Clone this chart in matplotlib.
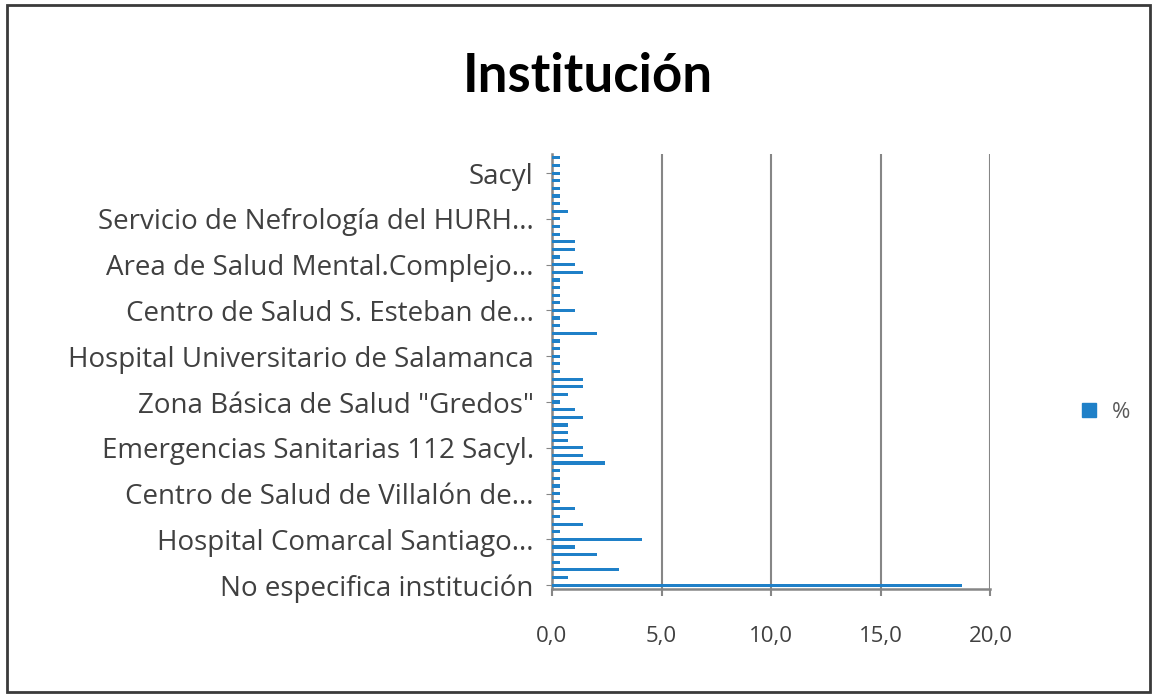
import matplotlib
matplotlib.use("Agg")
import matplotlib.pyplot as plt
from matplotlib.patches import Rectangle
from matplotlib.lines import Line2D

# Data (bottom -> top), percentages
values = [18.7, 0.73, 3.06, 0.37, 2.05, 1.05, 4.1, 0.37, 1.4, 0.37,
          1.05, 0.37, 0.37, 0.37, 0.37, 0.37, 2.4, 1.4, 1.4, 0.73,
          0.73, 0.73, 1.4, 1.05, 0.37, 0.73, 1.4, 1.4, 0.37, 0.37,
          0.37, 0.37, 0.37, 2.05, 0.37, 0.37, 1.05, 0.37, 0.37, 0.37,
          0.37, 1.4, 1.05, 0.37, 1.05, 1.05, 0.37, 0.37, 0.37, 0.73,
          0.37, 0.37, 0.37, 0.37, 0.37, 0.37, 0.37]

shown_labels = ["No especifica institución",
                "Hospital Comarcal Santiago...",
                "Centro de Salud de Villalón de...",
                "Emergencias Sanitarias 112 Sacyl.",
                "Zona Básica de Salud \"Gredos\"",
                "Hospital Universitario de Salamanca",
                "Centro de Salud S. Esteban de...",
                "Area de Salud Mental.Complejo...",
                "Servicio de Nefrología del HURH...",
                "Sacyl"]
label_interval = 6
xticks = [0, 5, 10, 15, 20]
xtick_labels = ["0,0", "5,0", "10,0", "15,0", "20,0"]
series_name = "%"

plt.rcParams['font.family'] = ['Open Sans', 'DejaVu Sans']

fig = plt.figure(figsize=(11.57, 6.97), dpi=100)
fig.patch.set_facecolor("white")
# outer chart border
fig.add_artist(Rectangle((0.006, 0.007), 0.988, 0.986, transform=fig.transFigure,
                         fill=False, edgecolor="#3a3a3a", linewidth=2.0))

ax = fig.add_axes([0.477, 0.155, 0.379, 0.624])
bar_color = "#1f80c8"
n = len(values)
ax.barh(range(n), values, height=0.42, color=bar_color, zorder=3)
ax.set_ylim(-0.5, n - 0.5)
ax.set_xlim(0, 20)

ytick_pos = [i * label_interval for i in range(len(shown_labels))]
ax.set_yticks(ytick_pos)
ax.set_yticklabels(shown_labels, fontsize=20, color="#404040")
ax.set_xticks(xticks)
ax.set_xticklabels(xtick_labels, fontsize=16, color="#404040")
ax.tick_params(axis='y', length=4, color="#868686", pad=9)
ax.tick_params(axis='x', length=5, color="#868686", pad=22, width=1.5)

ax.grid(axis='x', color="#868686", linewidth=1.5, zorder=0)
for s in ["top", "right"]:
    ax.spines[s].set_visible(False)
for s in ["left", "bottom"]:
    ax.spines[s].set_color("#868686")
    ax.spines[s].set_linewidth(1.8)

fig.text(0.508, 0.89, "Institución", ha="center", va="center",
         fontsize=38, fontweight="bold", color="#000000", family=['Lato', 'DejaVu Sans'])

# legend
handle = Line2D([], [], marker='s', linestyle='none', markersize=10,
                markerfacecolor=bar_color, markeredgecolor=bar_color)
fig.legend([handle], [series_name], loc="center left",
           bbox_to_anchor=(0.905, 0.408), frameon=False, fontsize=16,
           handletextpad=0.0, labelcolor="#595959")

fig.savefig("out.png", dpi=100, facecolor="white")
